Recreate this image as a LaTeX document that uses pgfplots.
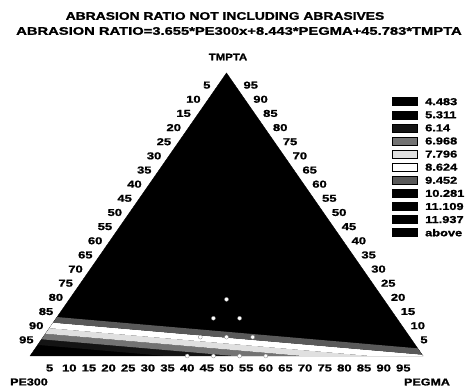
\documentclass[border=0pt]{standalone}
\usepackage{pgfplots}
\pgfplotsset{compat=1.18}
\usepackage{fontspec}
\setmainfont{Liberation Sans}[BoldFeatures={FakeBold=1.2}]

% wide bold lettering used for every text element
\newcommand{\wb}[3]{\scalebox{#2}[1]{\fontsize{#1}{#1}\selectfont\bfseries #3}}

% band fills (scanned grey levels)
\definecolor{bandC}{gray}{0.08}
\definecolor{bandD}{gray}{0.45}
\definecolor{bandE}{gray}{0.88}
\definecolor{bandF}{gray}{1.0}
\definecolor{bandG}{gray}{0.35}

\begin{document}
\begin{tikzpicture}
\path[use as bounding box] (-30pt,-31pt) rectangle (438pt,356pt);

% titles
\node at (195pt,340pt) {\wb{11pt}{1.26}{ABRASION RATIO NOT INCLUDING ABRASIVES}};
\node at (209pt,325pt) {\wb{11pt}{1.34}{ABRASION RATIO=3.655*PE300x+8.443*PEGMA+45.783*TMPTA}};

\begin{axis}[
  at={(0pt,0pt)}, anchor=south west,
  scale only axis, width=393pt, height=283pt,
  xmin=0, xmax=1, ymin=0, ymax=1,
  hide axis, clip=false,
]
% whole simplex: response above 11.937
\addplot[fill=black, draw=black] coordinates {(0,0) (1,0) (0.5,1) (0,0)};

% contour bands (x = PEGMA + TMPTA/2, y = TMPTA)
\addplot[fill=bandC, draw=none] coordinates {
  (0.019655,0.039309) (0.34586,0) (0.51901,0) (0.029493,0.058987)};
\addplot[fill=bandD, draw=none] coordinates {
  (0.029493,0.058987) (0.51901,0) (0.69194,0) (0.039320,0.078641)};
\addplot[fill=bandE, draw=none] coordinates {
  (0.039320,0.078641) (0.69194,0) (0.86487,0) (0.049148,0.098296)};
\addplot[fill=bandF, draw=none] coordinates {
  (0.049148,0.098296) (0.86487,0) (1,0) (0.997576,0.004847) (0.058975,0.117950)};
\addplot[fill=bandG, draw=none] coordinates {
  (0.058975,0.117950) (0.997576,0.004847) (0.986489,0.027022) (0.068802,0.137604)};

% design points
\addplot[only marks, mark=*, mark size=2pt,
  mark options={fill=white, draw=gray, line width=0.3pt}] coordinates {
  (0.4,0) (0.4667,0) (0.5333,0) (0.6,0)
  (0.4333,0.0667) (0.5,0.0667) (0.5667,0.0667)
  (0.4667,0.1333) (0.5333,0.1333)
  (0.5,0.2)};

% edge scales
\pgfplotsinvokeforeach{5,10,...,95}{
  \node[anchor=east, inner sep=0pt, xshift=-6pt, yshift=2pt]
    at (axis cs:{0.5*(1-#1/100)},{1-#1/100}) {\wb{10pt}{1.3}{#1}};
  \node[anchor=west, inner sep=0pt, xshift=7pt, yshift=2pt]
    at (axis cs:{1-0.5*#1/100},{#1/100}) {\wb{10pt}{1.3}{#1}};
  \node[inner sep=0pt, yshift=-12pt]
    at (axis cs:{#1/100},0) {\wb{10pt}{1.3}{#1}};
}
\end{axis}

% vertex names
\node at (198pt,299pt) {\wb{9.5pt}{1.2}{TMPTA}};
\node at (-1pt,-26pt) {\wb{10pt}{1.25}{PE300}};
\node at (397pt,-26pt) {\wb{10pt}{1.25}{PEGMA}};

% legend
\foreach \lab/\col [count=\i from 0] in {4.483/black,5.311/black,6.14/bandC,6.968/bandD,7.796/bandE,8.624/bandF,9.452/bandG,10.281/black,11.109/black,11.937/black,above/black}{
  \pgfmathsetmacro{\yy}{356-101.7-13.1*\i}
  \fill[\col] (362pt,\yy pt-4pt) rectangle (387pt,\yy pt+4pt);
  \draw[black, line width=0.5pt] (362pt,\yy pt-4pt) rectangle (387pt,\yy pt+4pt);
  \node[anchor=west, inner sep=0pt] at (395pt,\yy pt) {\wb{10pt}{1.28}{\lab}};
}
\end{tikzpicture}
\end{document}
